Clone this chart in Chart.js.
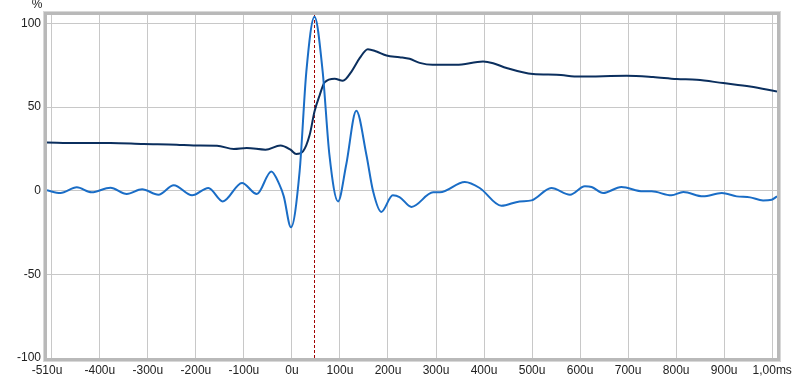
<!DOCTYPE html>
<html>
<head>
<meta charset="utf-8">
<script src="https://cdn.jsdelivr.net/npm/chart.js@4/dist/chart.umd.min.js"></script>
<style>
  html, body { margin: 0; padding: 0; background: #ffffff; }
  #wrap { width: 800px; height: 379px; position: relative; }
</style>
</head>
<body>
<div id="wrap"><canvas id="c" width="800" height="379"></canvas></div>
<script>
// ---- data (x in microseconds, y in %) ----
const stepX = [-510,-448,-378,-309,-240,-205,-156,-121,-94,-55,-24,-3,9,23,37,47,58,68,89,106,124,141,158,176,197,224,245,266,293,342,398,419,447,502,551,599,697,752,801,843,898,954,1010];
const stepY = [28.8,28.5,28.5,27.9,27.5,27.0,26.9,24.9,25.5,24.5,27.0,24.5,21.9,23.5,33.4,47.3,57.3,64.7,66.9,65.7,71.2,79.2,84.6,83.2,80.8,79.8,78.8,76.4,75.2,75.2,77.2,76.2,73.3,69.7,69.3,68.2,68.7,67.9,66.7,66.3,64.3,62.3,59.3];

const impulseX = [-510,-482,-448,-417,-378,-344,-312,-278,-246,-208,-174,-144,-104,-73,-43,-26,-17,-2,16,30,47,64,78,96,113,134,155,169,186,210,224,249,294,308,360,391,436,474,499,540,579,610,624,648,686,731,749,790,815,856,895,926,954,981,999,1010];
const impulseY = [0.2,-1.4,2.0,-1.0,1.8,-2.0,0.8,-2.4,3.2,-2.8,1.6,-6.4,4.6,-2.0,11.5,3.6,-3.4,-21.9,11.5,71.2,104,71.2,21.5,-6.4,15.5,47.8,21.5,-0.4,-12.7,-2.8,-3.8,-9.7,-1.0,-1.0,5.2,1.6,-9.0,-6.4,-5.8,1.6,-2.4,2.6,2.2,-1.4,2.2,-0.4,-0.4,-2.8,-0.8,-3.4,-1.4,-3.4,-4.0,-5.8,-5.4,-3.4];

const markerX = 47;
const xTicks = [-510,-500,-400,-300,-200,-100,0,100,200,300,400,500,600,700,800,900,1000];
const yTicks = [-100,-50,0,50,100];
const xRange = [-510, 1010];
const yRange = [-100, 105];

function xLabel(v) {
  if (v === -500) return '';
  if (v === 1000) return '1,00ms';
  return v + 'u';
}
function pts(xs, ys) { return xs.map((x, i) => ({ x: x, y: ys[i] })); }

const framePlugin = {
  id: 'frame',
  afterDraw(chart) {
    const a = chart.chartArea, ctx = chart.ctx;
    ctx.save();
    ctx.strokeStyle = '#b9b9b9';
    ctx.lineWidth = 3;
    ctx.strokeRect(a.left - 1.5, a.top - 1.5, a.right - a.left + 3, a.bottom - a.top + 3);
    ctx.strokeStyle = '#d8d8d8';
    ctx.lineWidth = 1;
    ctx.strokeRect(a.left - 3.5, a.top - 3.5, a.right - a.left + 7, a.bottom - a.top + 7);
    ctx.fillStyle = '#222';
    ctx.font = '12px "Liberation Sans", Arial, sans-serif';
    ctx.textAlign = 'center';
    ctx.textBaseline = 'middle';
    ctx.fillText('%', 37, 5);
    ctx.restore();
  }
};

new Chart(document.getElementById('c'), {
  type: 'line',
  data: {
    datasets: [
      { data: pts(impulseX, impulseY), borderColor: '#1a6dc6', borderWidth: 2, pointRadius: 0, cubicInterpolationMode: 'monotone', order: 0 },
      { data: pts(stepX, stepY), borderColor: '#0b2f5e', borderWidth: 2, pointRadius: 0, cubicInterpolationMode: 'monotone', order: 1 },
      { data: [{ x: markerX, y: yRange[0] }, { x: markerX, y: yRange[1] }], borderColor: '#a00000', borderWidth: 1, borderDash: [3, 2], pointRadius: 0, order: 2 }
    ]
  },
  options: {
    responsive: false,
    animation: false,
    layout: { padding: { left: 0, top: 15, right: 23, bottom: 0 } },
    plugins: { legend: { display: false }, tooltip: { enabled: false } },
    scales: {
      x: {
        type: 'linear', min: xRange[0], max: xRange[1],
        afterBuildTicks(s) { s.ticks = xTicks.map(v => ({ value: v })); },
        afterFit(s) { s.height = 21; },
        border: { display: false },
        grid: { color: ctx => (ctx.tick && ctx.tick.value === -510) ? 'rgba(0,0,0,0)' : '#c8c8c8', lineWidth: 1, drawTicks: false },
        ticks: { autoSkip: false, maxRotation: 0, padding: 5, color: '#222', font: { family: '"Liberation Sans", Arial, sans-serif', size: 12 }, callback: v => xLabel(v) }
      },
      y: {
        type: 'linear', min: yRange[0], max: yRange[1],
        afterBuildTicks(s) { s.ticks = yTicks.map(v => ({ value: v })); },
        afterFit(s) { s.width = 47; },
        border: { display: false },
        grid: { color: '#c8c8c8', lineWidth: 1, drawTicks: false },
        ticks: { padding: 6, color: '#222', font: { family: '"Liberation Sans", Arial, sans-serif', size: 12 }, callback: v => String(v) }
      }
    }
  },
  plugins: [framePlugin]
});
</script>
</body>
</html>
